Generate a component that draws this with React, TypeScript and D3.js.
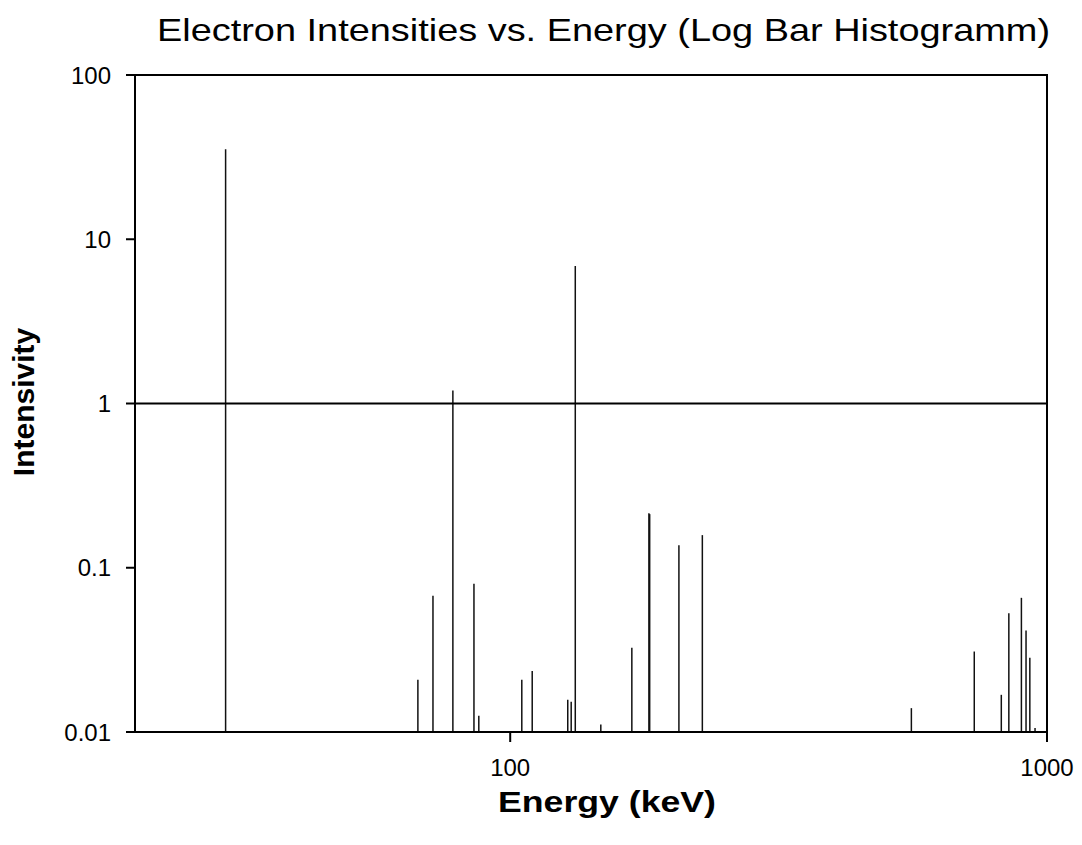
import * as d3 from 'd3';
import { useEffect, useRef } from 'react';

const energies = [
  29.5, 67.3, 71.8, 78.2, 85.6, 87.4, 105.1, 109.9, 128.0, 129.9, 132.2, 147.5,
  168.5, 181.3, 181.9, 206.2, 228.0, 558.9, 732, 822, 849, 896, 914, 929, 950,
];
const intensities = [
  35.3, 0.0208, 0.0675, 1.2, 0.0798, 0.01255, 0.0208, 0.0235, 0.0157, 0.0153,
  6.88, 0.0111, 0.0326, 0.215, 0.212, 0.137, 0.158, 0.01397, 0.0309, 0.01684,
  0.0529, 0.0656, 0.0415, 0.0283, 0.01056,
];
const yTicks = [0.01, 0.1, 1, 10, 100];
const yTickLabels = ['0.01', '0.1', '1', '10', '100'];
const xTicks = [100, 1000];
const xTickLabels = ['100', '1000'];

const width = 1082;
const height = 845;
const plot = { left: 135, right: 1047, top: 75, bottom: 732 };
const font = 'Arial, "Liberation Sans", sans-serif';

export default function App() {
  const ref = useRef<SVGSVGElement>(null);

  useEffect(() => {
    const svg = d3.select(ref.current);
    svg.selectAll('*').remove();

    const x = d3.scaleLog().domain([20, 1000]).range([plot.left, plot.right]);
    const y = d3.scaleLog().domain([0.01, 100]).range([plot.bottom, plot.top]);

    svg.append('rect').attr('width', width).attr('height', height).attr('fill', '#fff');

    // bars
    svg
      .selectAll('.bar')
      .data(energies)
      .enter()
      .append('line')
      .attr('class', 'bar')
      .attr('x1', (d) => x(d))
      .attr('x2', (d) => x(d))
      .attr('y1', y(0.01))
      .attr('y2', (_d, i) => y(intensities[i]))
      .attr('stroke', '#111')
      .attr('stroke-width', 1.5);

    // frame
    svg
      .append('rect')
      .attr('x', plot.left)
      .attr('y', plot.top)
      .attr('width', plot.right - plot.left)
      .attr('height', plot.bottom - plot.top)
      .attr('fill', 'none')
      .attr('stroke', '#000')
      .attr('stroke-width', 2);

    // line at 1
    svg
      .append('line')
      .attr('x1', plot.left)
      .attr('x2', plot.right)
      .attr('y1', y(1))
      .attr('y2', y(1))
      .attr('stroke', '#000')
      .attr('stroke-width', 2);

    // y ticks
    const yt = svg.selectAll('.ytick').data(yTicks).enter().append('g').attr('class', 'ytick');
    yt.append('line')
      .attr('x1', plot.left - 9)
      .attr('x2', plot.left)
      .attr('y1', (d) => y(d))
      .attr('y2', (d) => y(d))
      .attr('stroke', '#000')
      .attr('stroke-width', 2);
    yt.append('text')
      .attr('x', 111)
      .attr('y', (d) => y(d) + 8.5)
      .attr('text-anchor', 'end')
      .style('font-family', font)
      .style('font-size', '24px')
      .text((_d, i) => yTickLabels[i]);

    // x ticks
    const xt = svg.selectAll('.xtick').data(xTicks).enter().append('g').attr('class', 'xtick');
    xt.append('line')
      .attr('x1', (d) => x(d))
      .attr('x2', (d) => x(d))
      .attr('y1', plot.bottom)
      .attr('y2', plot.bottom + 10)
      .attr('stroke', '#000')
      .attr('stroke-width', 2);
    xt.append('text')
      .attr('x', (d) => x(d))
      .attr('y', 776)
      .attr('text-anchor', 'middle')
      .style('font-family', font)
      .style('font-size', '24px')
      .text((_d, i) => xTickLabels[i]);

    // title
    svg
      .append('text')
      .attr('x', 157)
      .attr('y', 41)
      .attr('textLength', 893)
      .attr('lengthAdjust', 'spacingAndGlyphs')
      .style('font-family', font)
      .style('font-size', '32px')
      .text('Electron Intensities vs. Energy (Log Bar Histogramm)');

    // axis labels
    svg
      .append('text')
      .attr('x', 498)
      .attr('y', 812)
      .attr('textLength', 218)
      .attr('lengthAdjust', 'spacingAndGlyphs')
      .style('font-family', font)
      .style('font-size', '29px')
      .style('font-weight', 'bold')
      .text('Energy (keV)');

    svg
      .append('text')
      .attr('transform', 'translate(34,402) rotate(-90)')
      .attr('text-anchor', 'middle')
      .style('font-family', font)
      .style('font-size', '30px')
      .style('font-weight', 'bold')
      .text('Intensivity');
  }, []);

  return (
    <svg
      ref={ref}
      width={width}
      height={height}
      style={{ position: 'absolute', left: 0, top: 0, display: 'block' }}
    />
  );
}
